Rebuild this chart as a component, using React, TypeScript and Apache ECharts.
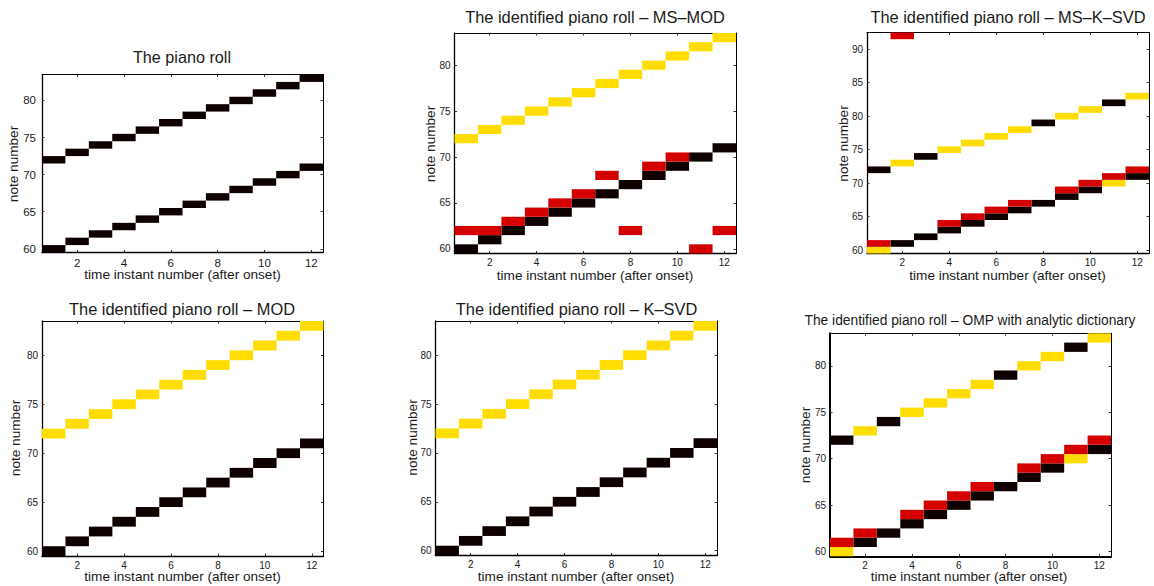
import React, { useEffect, useRef } from "react";
import * as echarts from "echarts";

// ---------- data ----------
const TIMES = [1, 2, 3, 4, 5, 6, 7, 8, 9, 10, 11, 12];
const X_TICKS = [2, 4, 6, 8, 10, 12];
const Y_TICKS = [60, 65, 70, 75, 80];
const Y_TICKS_WIDE = [60, 65, 70, 75, 80, 85, 90];

// ground-truth piano roll (two voices)
const TRUTH_UPPER = [72, 73, 74, 75, 76, 77, 78, 79, 80, 81, 82, 83];
const TRUTH_LOWER = [60, 61, 62, 63, 64, 65, 66, 67, 68, 69, 70, 71];

// MS-MOD (one note per time instant for each colour)
const MSMOD_YELLOW = [72, 73, 74, 75, 76, 77, 78, 79, 80, 81, 82, 83];
const MSMOD_BLACK = [60, 61, 62, 63, 64, 65, 66, 67, 68, 69, 70, 71];
const MSMOD_RED = [62, 62, 63, 64, 65, 66, 68, 62, 69, 70, 60, 62];

// MOD and K-SVD
const MOD_YELLOW = [72, 73, 74, 75, 76, 77, 78, 79, 80, 81, 82, 83];
const MOD_BLACK = [60, 61, 62, 63, 64, 65, 66, 67, 68, 69, 70, 71];
const KSVD_YELLOW = [72, 73, 74, 75, 76, 77, 78, 79, 80, 81, 82, 83];
const KSVD_BLACK = [60, 61, 62, 63, 64, 65, 66, 67, 68, 69, 70, 71];

// MS-K-SVD: [time, note]
const MSKSVD_YELLOW: number[][] = [[1, 60], [2, 73], [4, 75], [5, 76], [6, 77], [7, 78], [9, 80], [10, 81], [11, 70], [12, 83]];
const MSKSVD_BLACK: number[][] = [[1, 72], [2, 61], [3, 74], [3, 62], [4, 63], [5, 64], [6, 65], [7, 66], [8, 79], [8, 67], [9, 68], [10, 69], [11, 82], [12, 71]];
const MSKSVD_RED: number[][] = [[1, 61], [2, 92], [4, 64], [5, 65], [6, 66], [7, 67], [9, 69], [10, 70], [11, 71], [12, 72]];

// OMP with analytic dictionary: [time, note]
const OMP_YELLOW: number[][] = [[1, 60], [2, 73], [4, 75], [5, 76], [6, 77], [7, 78], [9, 80], [10, 81], [11, 70], [12, 83]];
const OMP_BLACK: number[][] = [[1, 72], [2, 61], [3, 74], [3, 62], [4, 63], [5, 64], [6, 65], [7, 66], [8, 79], [8, 67], [9, 68], [10, 69], [11, 82], [12, 71]];
const OMP_RED: number[][] = [[1, 61], [2, 62], [4, 64], [5, 65], [6, 66], [7, 67], [9, 69], [10, 70], [11, 71], [12, 72]];

// ---------- styling ----------
const C_BLACK = "#0f0000";
const C_RED = "#d40000";
const C_YELLOW = "#ffdd00";
const FONT = "'Liberation Sans', Arial, Helvetica, sans-serif";
const TEXT = "#1a1a1a";

const pairs = (notes: number[]) => TIMES.map((t, i) => [t, notes[i]]);

type Panel = {
  title: string;
  titleSize: number;
  titleX: number;
  titleY: number;
  grid: { left: number; top: number; width: number; height: number };
  yMax: number;
  yTicks: number[];
  tickFont: number;
  yLabelMargin: number;
  xNameX: number;
  xNameY: number;
  yNameX: number;
  yNameY: number;
  frameW: number;
  cells: { color: string; data: number[][] }[];
};

const PANELS: Panel[] = [
  {
    title: "The piano roll",
    titleSize: 16.2,
    titleX: 182,
    titleY: 57,
    grid: { left: 42, top: 74.5, width: 281, height: 178 },
    yMax: 83.5,
    yTicks: Y_TICKS,
    tickFont: 11.5,
    yLabelMargin: 6,
    xNameX: 182.5,
    xNameY: 274.5,
    yNameX: 13.5,
    yNameY: 164,
    frameW: 1.3,
    cells: [
      { color: C_BLACK, data: pairs(TRUTH_UPPER) },
      { color: C_BLACK, data: pairs(TRUTH_LOWER) },
    ],
  },
  {
    title: "The identified piano roll \u2013 MS\u2013MOD",
    titleSize: 16.4,
    titleX: 595,
    titleY: 17,
    grid: { left: 454.5, top: 33, width: 281.5, height: 220.5 },
    yMax: 83.5,
    yTicks: Y_TICKS,
    tickFont: 10,
    yLabelMargin: 4,
    xNameX: 595,
    xNameY: 275.5,
    yNameX: 430,
    yNameY: 144,
    frameW: 1.3,
    cells: [
      { color: C_YELLOW, data: pairs(MSMOD_YELLOW) },
      { color: C_BLACK, data: pairs(MSMOD_BLACK) },
      { color: C_RED, data: pairs(MSMOD_RED) },
    ],
  },
  {
    title: "The identified piano roll \u2013 MS\u2013K\u2013SVD",
    titleSize: 16.4,
    titleX: 1008,
    titleY: 17,
    grid: { left: 867, top: 32.5, width: 282, height: 221 },
    yMax: 92.5,
    yTicks: Y_TICKS_WIDE,
    tickFont: 10,
    yLabelMargin: 4,
    xNameX: 1007.5,
    xNameY: 275.5,
    yNameX: 843.5,
    yNameY: 143.5,
    frameW: 1.3,
    cells: [
      { color: C_YELLOW, data: MSKSVD_YELLOW },
      { color: C_BLACK, data: MSKSVD_BLACK },
      { color: C_RED, data: MSKSVD_RED },
    ],
  },
  {
    title: "The identified piano roll \u2013 MOD",
    titleSize: 16.4,
    titleX: 182,
    titleY: 308.5,
    grid: { left: 42, top: 321, width: 281.5, height: 235 },
    yMax: 83.5,
    yTicks: Y_TICKS,
    tickFont: 10,
    yLabelMargin: 4,
    xNameX: 182.5,
    xNameY: 576,
    yNameX: 15,
    yNameY: 438,
    frameW: 1.3,
    cells: [
      { color: C_YELLOW, data: pairs(MOD_YELLOW) },
      { color: C_BLACK, data: pairs(MOD_BLACK) },
    ],
  },
  {
    title: "The identified piano roll \u2013 K\u2013SVD",
    titleSize: 16.4,
    titleX: 576.5,
    titleY: 308.5,
    grid: { left: 435.5, top: 321, width: 281.5, height: 234.5 },
    yMax: 83.5,
    yTicks: Y_TICKS,
    tickFont: 10,
    yLabelMargin: 4,
    xNameX: 576,
    xNameY: 576,
    yNameX: 412,
    yNameY: 437.5,
    frameW: 1.3,
    cells: [
      { color: C_YELLOW, data: pairs(KSVD_YELLOW) },
      { color: C_BLACK, data: pairs(KSVD_BLACK) },
    ],
  },
  {
    title: "The identified piano roll \u2013 OMP with analytic dictionary",
    titleSize: 13.8,
    titleX: 970,
    titleY: 320.5,
    grid: { left: 830, top: 333.3, width: 281, height: 223 },
    yMax: 83.5,
    yTicks: Y_TICKS,
    tickFont: 10,
    yLabelMargin: 4,
    xNameX: 969,
    xNameY: 576,
    yNameX: 805,
    yNameY: 445,
    frameW: 2,
    cells: [
      { color: C_YELLOW, data: OMP_YELLOW },
      { color: C_BLACK, data: OMP_BLACK },
      { color: C_RED, data: OMP_RED },
    ],
  },
];

function buildOption() {
  const grid: any[] = [];
  const xAxis: any[] = [];
  const yAxis: any[] = [];
  const series: any[] = [];
  const graphic: any[] = [];

  PANELS.forEach((p, i) => {
    grid.push({ ...p.grid, containLabel: false });

    const baseX = {
      type: "value",
      gridIndex: i,
      min: 0.5,
      max: 12.5,
      splitLine: { show: false },
      axisTick: { show: true, inside: true, length: 2.5, customValues: X_TICKS, lineStyle: { color: "#333", width: 1 } },
    };
    xAxis.push({
      ...baseX,
      position: "bottom",
      axisLine: { show: true, onZero: false, lineStyle: { color: "#000", width: p.frameW } },
      axisLabel: { show: true, customValues: X_TICKS, fontSize: p.tickFont, color: TEXT, fontFamily: FONT, margin: 4 },
    });
    xAxis.push({
      ...baseX,
      position: "top",
      axisLine: { show: true, onZero: false, lineStyle: { color: "#000", width: 1 } },
      axisLabel: { show: false },
    });

    const baseY = {
      type: "value",
      gridIndex: i,
      min: 59.5,
      max: p.yMax,
      splitLine: { show: false },
      axisTick: { show: true, inside: true, length: 2.5, customValues: p.yTicks, lineStyle: { color: "#333", width: 1 } },
    };
    yAxis.push({
      ...baseY,
      position: "left",
      axisLine: { show: true, onZero: false, lineStyle: { color: "#000", width: p.frameW } },
      axisLabel: { show: true, customValues: p.yTicks, fontSize: p.tickFont, color: TEXT, fontFamily: FONT, margin: p.yLabelMargin },
    });
    yAxis.push({
      ...baseY,
      position: "right",
      axisLine: { show: true, onZero: false, lineStyle: { color: "#000", width: 1 } },
      axisLabel: { show: false },
    });

    p.cells.forEach((c) => {
      series.push({
        type: "custom",
        xAxisIndex: 2 * i,
        yAxisIndex: 2 * i,
        data: c.data,
        silent: true,
        renderItem: (params: any, api: any) => {
          const t = api.value(0);
          const n = api.value(1);
          const a = api.coord([t - 0.5, n + 0.5]);
          const b = api.coord([t + 0.5, n - 0.5]);
          return {
            type: "rect",
            shape: { x: a[0], y: a[1], width: b[0] - a[0], height: b[1] - a[1] },
            style: { fill: c.color, stroke: null },
          };
        },
      });
    });

    graphic.push({
      type: "text",
      x: p.titleX,
      y: p.titleY,
      style: { text: p.title, fill: TEXT, font: `${p.titleSize}px ${FONT}`, align: "center", verticalAlign: "middle" },
    });
    graphic.push({
      type: "text",
      x: p.xNameX,
      y: p.xNameY,
      style: { text: "time instant number (after onset)", fill: TEXT, font: `13.6px ${FONT}`, align: "center", verticalAlign: "middle" },
    });
    graphic.push({
      type: "text",
      x: p.yNameX,
      y: p.yNameY,
      rotation: Math.PI / 2,
      style: { text: "note number", fill: TEXT, font: `13.6px ${FONT}`, align: "center", verticalAlign: "middle" },
    });
  });

  return {
    animation: false,
    backgroundColor: "#ffffff",
    grid,
    xAxis,
    yAxis,
    series,
    graphic,
  };
}

export default function App() {
  const ref = useRef<HTMLDivElement>(null);
  useEffect(() => {
    if (!ref.current) return;
    const chart = echarts.init(ref.current, undefined, { renderer: "svg" });
    chart.setOption(buildOption() as any);
    return () => chart.dispose();
  }, []);
  return (
    <div
      ref={ref}
      style={{ position: "fixed", left: 0, top: 0, width: 1154, height: 586, background: "#fff" }}
    />
  );
}
